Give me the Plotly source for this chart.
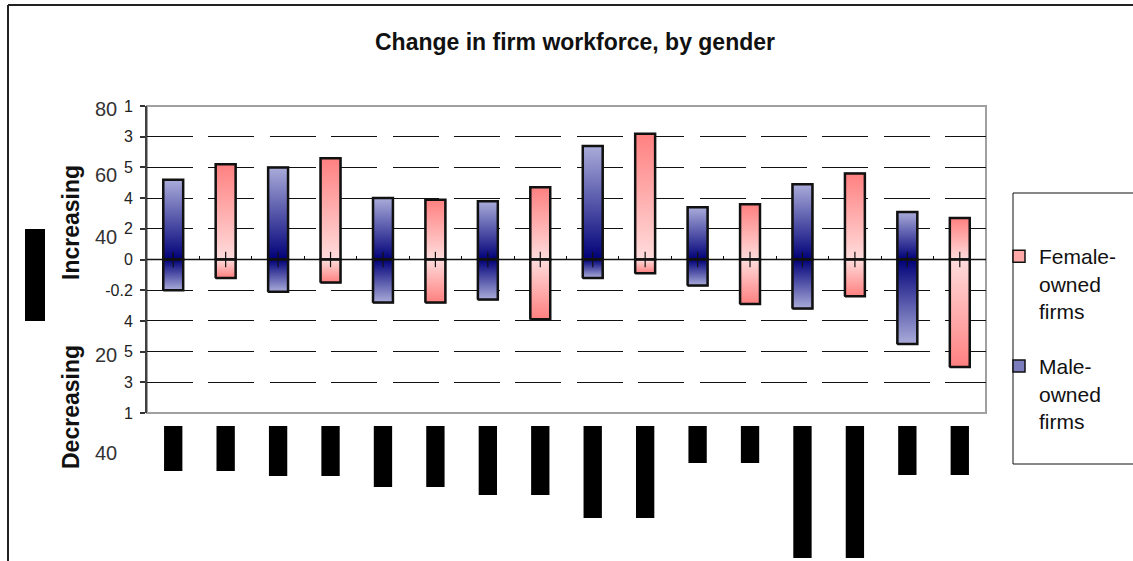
import plotly.graph_objects as go

# canvas size of the reference
W, H = 1133, 561

# values per group (8 groups, each has a male bar then a female bar)
male_up = [0.52, 0.60, 0.40, 0.38, 0.74, 0.34, 0.49, 0.31]
male_down = [-0.20, -0.21, -0.28, -0.26, -0.12, -0.17, -0.32, -0.55]
female_up = [0.62, 0.66, 0.39, 0.47, 0.82, 0.36, 0.56, 0.27]
female_down = [-0.12, -0.15, -0.28, -0.39, -0.09, -0.29, -0.24, -0.70]

# garbled category labels render as black blocks below the plot (length in px)
label_len = [45, 50, 61, 69, 92, 37, 132, 49]

ytick_vals = [-1, -0.8, -0.6, -0.4, -0.2, 0, 0.2, 0.4, 0.6, 0.8, 1]
ytick_text = ["1", "3", "5", "4", "-0.2", "0", "2", "4", "5", "3", "1"]

side_labels = ["80", "60", "40", "20", "40"]

male_x = [2 * g for g in range(8)]
female_x = [2 * g + 1 for g in range(8)]
boundaries = [i - 0.5 for i in range(17)]

BW = 0.38
FONT = "Liberation Sans, Arial, sans-serif"

MALE_ZERO, MALE_FAR = "#000078", "#aaacda"
FEM_ZERO, FEM_FAR = "#ffdcdc", "#ff8080"


def px(x):
    return x / W


def py(y):
    return 1 - y / H


def half_bar(xc, lo, hi, zero_col, far_col, up):
    xs = [xc - BW / 2, xc + BW / 2, xc + BW / 2, xc - BW / 2, xc - BW / 2]
    ys = [lo, lo, hi, hi, lo]
    scale = [[0, zero_col], [1, far_col]] if up else [[0, far_col], [1, zero_col]]
    return go.Scatter(x=xs, y=ys, mode="lines", fill="toself",
                      fillgradient=dict(type="vertical", colorscale=scale),
                      line=dict(color="#111111", width=2.5),
                      showlegend=False, hoverinfo="skip")


fig = go.Figure()

# legend carriers (real bars, covered by the gradient shapes)
fig.add_trace(go.Bar(x=female_x, y=[u - d for u, d in zip(female_up, female_down)], base=female_down,
                     width=BW, name="Female-<br>owned<br>firms", legendgroup="f",
                     marker=dict(color="#ffa8a8", line=dict(color="#111111", width=1.5))))
fig.add_trace(go.Bar(x=male_x, y=[u - d for u, d in zip(male_up, male_down)], base=male_down,
                     width=BW, name="Male-<br>owned<br>firms", legendgroup="m",
                     marker=dict(color="#7a7cbc", line=dict(color="#111111", width=1.5))))

for g in range(8):
    fig.add_trace(half_bar(male_x[g], 0, male_up[g], MALE_ZERO, MALE_FAR, True))
    fig.add_trace(half_bar(male_x[g], male_down[g], 0, MALE_ZERO, MALE_FAR, False))
    fig.add_trace(half_bar(female_x[g], 0, female_up[g], FEM_ZERO, FEM_FAR, True))
    fig.add_trace(half_bar(female_x[g], female_down[g], 0, FEM_ZERO, FEM_FAR, False))

# small crosses on the zero line at each bar
fig.add_trace(go.Scatter(x=male_x + female_x, y=[0] * 16, mode="markers",
                         marker=dict(symbol="line-ns", size=11, line=dict(color="#111111", width=1.2)),
                         showlegend=False, hoverinfo="skip"))

# black label blocks under the plot
fig.add_trace(go.Bar(x=male_x + female_x, y=label_len + label_len, width=BW * 0.92,
                     marker=dict(color="black", line=dict(width=0)),
                     xaxis="x2", yaxis="y2", showlegend=False, hoverinfo="skip"))

x_dom = [px(147), px(986)]
y_dom = [py(413), py(106)]

fig.update_layout(
    width=W, height=H,
    margin=dict(l=0, r=0, t=0, b=0, pad=0),
    paper_bgcolor="white", plot_bgcolor="white",
    barmode="overlay",
    font=dict(family=FONT, color="#222222"),
    title=dict(text="<b>Change in firm workforce, by gender</b>", x=px(575), y=py(42),
               xanchor="center", yanchor="middle", automargin=False,
               font=dict(size=23, color="#111111", family=FONT)),
    xaxis=dict(domain=x_dom, range=[-0.5, 15.5], anchor="free", position=(y_dom[0] + y_dom[1]) / 2,
               showgrid=False, zeroline=False, showline=False, showticklabels=False,
               tickmode="array", tickvals=boundaries, ticks="inside", ticklen=4,
               tickcolor="#111111", tickwidth=1, automargin=False),
    yaxis=dict(domain=y_dom, range=[-1, 1], anchor="x", automargin=False,
               tickmode="array", tickvals=ytick_vals, ticktext=ytick_text,
               ticks="outside", ticklen=5, tickcolor="#333333", tickwidth=1.5,
               showline=True, linecolor="#404040", linewidth=2,
               showgrid=False, zeroline=False, ticklabelstandoff=4,
               tickfont=dict(size=16, color="#222222"),
               minor=dict(tickvals=[-0.8, -0.6, -0.4, -0.2, 0.2, 0.4, 0.6, 0.8], showgrid=True,
                          gridcolor="#111111", gridwidth=1, griddash="46px,15.4px", ticks="")),
    xaxis2=dict(domain=x_dom, range=[-0.5, 15.5], anchor="y2", visible=False, automargin=False),
    yaxis2=dict(domain=[0, py(426)], range=[py(426) * H, 0], anchor="x2", visible=False,
                automargin=False),
    legend=dict(x=px(999), y=py(236), xanchor="left", yanchor="top", valign="top",
                bgcolor="rgba(0,0,0,0)", borderwidth=0, traceorder="grouped",
                tracegroupgap=25, font=dict(size=21, color="#111111", family=FONT)),
    showlegend=True,
)

shapes = [
    # outer chart frame (left and top edges; the rest runs off the picture)
    dict(type="line", xref="paper", yref="paper", x0=px(8), x1=px(8), y0=0, y1=py(5),
         line=dict(color="#222222", width=2), layer="below"),
    dict(type="line", xref="paper", yref="paper", x0=px(8), x1=1, y0=py(5), y1=py(5),
         line=dict(color="#222222", width=2), layer="below"),
    # plot area border
    dict(type="rect", xref="paper", yref="paper", x0=x_dom[0], x1=x_dom[1], y0=y_dom[0], y1=y_dom[1],
         line=dict(color="#a0a0a0", width=2), layer="below"),
    # zero line across bars
    dict(type="line", xref="paper", yref="y", x0=x_dom[0], x1=x_dom[1], y0=0, y1=0,
         line=dict(color="#111111", width=1.5), layer="above"),
    # stray black block at left
    dict(type="rect", xref="paper", yref="paper", x0=px(25), x1=px(45), y0=py(321), y1=py(229),
         fillcolor="black", line=dict(width=0), layer="above"),
    # legend box
    dict(type="rect", xref="paper", yref="paper", x0=px(1013), x1=px(1160), y0=py(464), y1=py(193),
         fillcolor="white", line=dict(color="#111111", width=1), layer="above"),
]
fig.update_layout(shapes=shapes)

annotations = [
    dict(text="<b>Increasing</b>", x=px(71), y=py(223), textangle=-90,
         font=dict(size=23, color="#111111")),
    dict(text="<b>Decreasing</b>", x=px(71), y=py(407), textangle=-90,
         font=dict(size=23, color="#111111")),
]
side_label_y = [109, 175, 237, 355, 453]
for t, yy in zip(side_labels, side_label_y):
    annotations.append(dict(text=t, x=px(119), y=py(yy), xanchor="right", yanchor="middle",
                            font=dict(size=20, color="#333333")))
for a in annotations:
    a.update(xref="paper", yref="paper", showarrow=False)
    a.setdefault("xanchor", "center")
    a.setdefault("yanchor", "middle")
fig.update_layout(annotations=annotations)

# drop the default 8px page margin so the figure sits at the window origin
fig.write_html("out.html", config={"displayModeBar": False},
               post_script="document.body.style.margin='0';")
